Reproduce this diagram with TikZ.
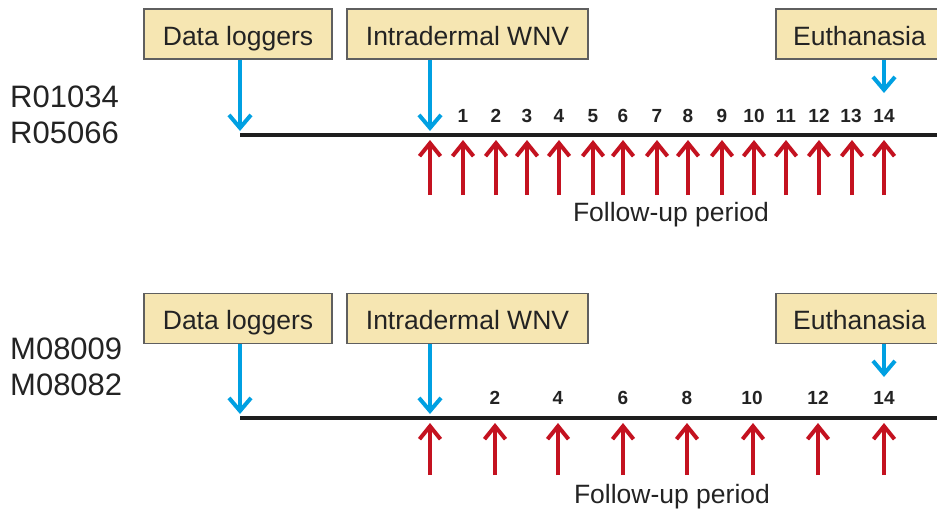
\documentclass[tikz,border=0pt]{standalone}
\usepackage{fontspec}
\setmainfont{Liberation Sans}
\usetikzlibrary{arrows.meta}
\definecolor{boxfill}{RGB}{246,230,178}
\definecolor{boxline}{RGB}{95,95,95}
\definecolor{ablue}{RGB}{0,160,226}
\definecolor{ared}{RGB}{196,18,32}
\definecolor{tline}{RGB}{30,30,30}
\definecolor{txt}{RGB}{35,35,35}
\tikzset{
  evbox/.style={draw=boxline, line width=1.2pt, fill=boxfill, minimum height=50pt,
    inner sep=0pt, text height=24pt, text depth=2pt, text=txt, font=\fontsize{26.5}{30}\selectfont},
  bluearrow/.style={draw=ablue, line width=4pt,
    -{Straight Barb[length=13pt,width=22pt,line width=4pt]}},
  redarrow/.style={draw=ared, line width=4pt,
    -{Straight Barb[length=13pt,width=21pt,line width=4pt]}},
  timeline/.style={draw=tline, line width=4.5pt},
  daynum/.style={text=txt, font=\fontsize{19}{21}\selectfont\bfseries, inner sep=0pt},
  sublabel/.style={text=txt, font=\fontsize{31}{36}\selectfont, anchor=west, inner sep=0pt},
  fulabel/.style={text=txt, font=\fontsize{26.5}{30}\selectfont, inner sep=0pt}
}
\begin{document}
\begin{tikzpicture}[x=1pt,y=-1pt]
\useasboundingbox (0,0) rectangle (937,512);
\clip (0,0) rectangle (937,512);
% ---------- top panel ----------
\node[sublabel] (r1) at (10,97) {R01034};
\node[sublabel] (r2) at (10,133) {R05066};
\node[evbox, minimum width=188pt] (dl1) at (238,34) {Data loggers};
\node[evbox, minimum width=241pt] (iw1) at (467.5,34) {Intradermal WNV};
\node[evbox, minimum width=167pt] (eu1) at (859.5,34) {Euthanasia};
\coordinate (ls1) at (240,135);
\coordinate (le1) at (945,135);
\draw[timeline] (ls1) -- (le1);
\coordinate (dlt1) at (240,131);
\coordinate (iwt1) at (430,131);
\coordinate (eut1) at (884,93);
\draw[bluearrow] (dl1.south -| dlt1) -- (dlt1);
\draw[bluearrow] (iw1.south -| iwt1) -- (iwt1);
\draw[bluearrow] (eu1.south -| eut1) -- (eut1);
\foreach \d/\x in {0/430,1/463,2/496,3/527,4/559,5/593,6/623,7/657,8/688,9/722,10/754,11/786,12/819,13/852,14/884}{
  \coordinate (rt1-\d) at (\x,140);
  \coordinate (rb1-\d) at (\x,195);
  \draw[redarrow] (rb1-\d) -- (rt1-\d);
}
\foreach \d/\x in {1/463,2/496,3/527,4/559,5/593,6/623,7/657,8/688,9/722,10/754,11/786,12/819,13/851,14/884}{
  \node[daynum] (n1-\d) at (\x,116) {\d};
}
\node[fulabel] (fu1) at (671,215) {Follow-up period};
% ---------- bottom panel ----------
\node[sublabel] (m1) at (10,349) {M08009};
\node[sublabel] (m2) at (10,385) {M08082};
\node[evbox, minimum width=188pt] (dl2) at (238,318.5) {Data loggers};
\node[evbox, minimum width=241pt] (iw2) at (467.5,318.5) {Intradermal WNV};
\node[evbox, minimum width=167pt] (eu2) at (859.5,318.5) {Euthanasia};
\coordinate (ls2) at (240,418);
\coordinate (le2) at (945,418);
\draw[timeline] (ls2) -- (le2);
\coordinate (dlt2) at (240,414);
\coordinate (iwt2) at (430,414);
\coordinate (eut2) at (884,377);
\draw[bluearrow] (dl2.south -| dlt2) -- (dlt2);
\draw[bluearrow] (iw2.south -| iwt2) -- (iwt2);
\draw[bluearrow] (eu2.south -| eut2) -- (eut2);
\foreach \d/\x in {0/430,2/495,4/558,6/623,8/687,10/753,12/818,14/884}{
  \coordinate (rt2-\d) at (\x,423);
  \coordinate (rb2-\d) at (\x,475);
  \draw[redarrow] (rb2-\d) -- (rt2-\d);
}
\foreach \d/\x in {2/495,4/558,6/623,8/687,10/752,12/818,14/884}{
  \node[daynum] (n2-\d) at (\x,398) {\d};
}
\node[fulabel] (fu2) at (672,497) {Follow-up period};
\end{tikzpicture}
\end{document}
